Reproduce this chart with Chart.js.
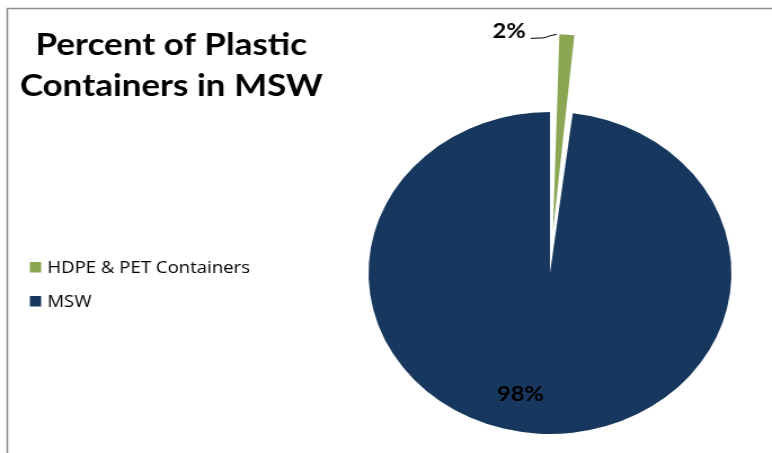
<!DOCTYPE html>
<html>
<head>
<meta charset="utf-8">
<script src="https://cdn.jsdelivr.net/npm/chart.js@4"></script>
<style>
  html, body { margin: 0; padding: 0; background: #fff; overflow: hidden; }
  /* the reference picture is stretched sideways; draw at 685 wide and stretch to 772 */
  #chart { transform: scaleX(1.127); transform-origin: 0 0; }
</style>
</head>
<body>
<canvas id="chart" width="685" height="453"></canvas>
<script>
const titleLines = ['Percent of Plastic', 'Containers in MSW'];
const labels = ['HDPE & PET Containers', 'MSW'];
const percents = [2, 98];
const colors = ['#8aa652', '#17375e'];
const offsets = [166, 0]; // the small slice is pulled far out

const decor = {
    id: 'decor',
    beforeDraw(chart) {
        const ctx = chart.ctx;
        ctx.save();
        ctx.fillStyle = '#fff';
        ctx.fillRect(0, 0, chart.width, chart.height);
        // frame (runs off the right and bottom edges)
        ctx.strokeStyle = '#8c8c8c';
        ctx.lineWidth = 1.5;
        ctx.strokeRect(6.5, 8.5, chart.width + 20, chart.height + 20);
        // title
        ctx.fillStyle = '#000';
        ctx.font = 'bold 31px Lato';
        ctx.textAlign = 'center';
        ctx.textBaseline = 'alphabetic';
        titleLines.forEach((t, i) => ctx.fillText(t, 152, 55 + i * 41));
        // legend
        ctx.font = '16.5px "Open Sans"';
        ctx.textAlign = 'left';
        ctx.textBaseline = 'middle';
        labels.forEach((l, i) => {
            const y = 267 + i * 34;
            ctx.fillStyle = colors[i];
            ctx.fillRect(26.5, y - 5, 10, 10.5);
            ctx.fillStyle = '#000';
            ctx.fillText(l, 42, y + 1);
        });
        ctx.restore();
    },
    afterDatasetsDraw(chart) {
        const ctx = chart.ctx;
        const arcs = chart.getDatasetMeta(0).data;
        const small = arcs[0], big = arcs[1];
        const r = small.outerRadius;

        // same shift the arc element applies for its offset
        const half = (small.startAngle + small.endAngle) / 2;
        const circ = small.endAngle - small.startAngle;
        const fix = 1 - Math.sin(Math.min(Math.PI, circ));
        const t = offsets[0] / 4 * (1 + fix);
        const px = small.x + Math.cos(half) * t + r * Math.cos(small.startAngle);
        const py = small.y + Math.sin(half) * t + r * Math.sin(small.startAngle);

        ctx.save();
        ctx.strokeStyle = '#000';
        ctx.lineWidth = 1;
        ctx.beginPath();
        ctx.moveTo(px - 22, py + 4);
        ctx.lineTo(px - 10, py + 3.5);
        ctx.quadraticCurveTo(px - 5, py + 1, px + 1, py);
        ctx.stroke();

        ctx.fillStyle = '#000';
        ctx.font = 'bold 21px Lato';
        ctx.textBaseline = 'middle';
        ctx.textAlign = 'right';
        ctx.fillText(percents[0] + '%', px - 26.5, py - 3.5);

        ctx.textAlign = 'center';
        ctx.fillText(percents[1] + '%', big.x - 0.163 * r, big.y + 0.75 * r);
        ctx.restore();
    }
};

new Chart(document.getElementById('chart'), {
    type: 'pie',
    data: {
        labels: labels,
        datasets: [{
            data: percents,
            backgroundColor: colors,
            borderWidth: 0,
            offset: offsets,
            radius: 161
        }]
    },
    options: {
        responsive: false,
        animation: false,
        events: [],
        layout: {
            padding: { left: 303, right: 12, top: 100, bottom: 7 }
        },
        plugins: {
            legend: { display: false },
            tooltip: { enabled: false },
            title: { display: false }
        }
    },
    plugins: [decor]
});
</script>
</body>
</html>
